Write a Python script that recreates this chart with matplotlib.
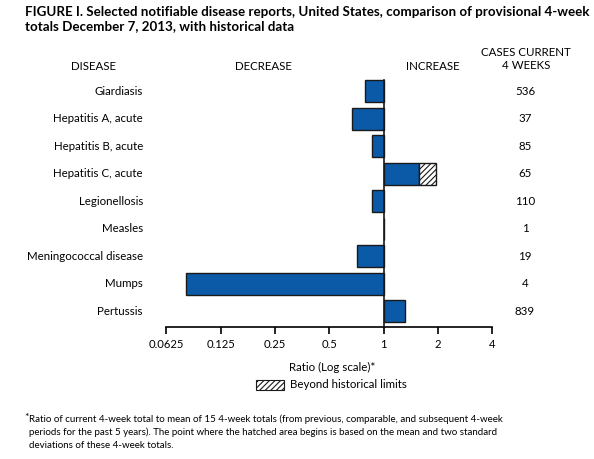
import matplotlib
matplotlib.use("Agg")
from matplotlib import pyplot as plt
from matplotlib import transforms
from matplotlib.patches import Rectangle

plt.rcParams['font.family'] = ['Lato', 'DejaVu Sans']
plt.rcParams['hatch.color'] = '#777777'
plt.rcParams['hatch.linewidth'] = 0.8

diseases = ["Giardiasis", "Hepatitis A, acute", "Hepatitis B, acute", "Hepatitis C, acute",
            "Legionellosis", "Measles", "Meningococcal disease", "Mumps", "Pertussis"]
ratios = [0.785, 0.665, 0.858, 1.95, 0.858, 1.0, 0.71, 0.08, 1.31]
hist_limit = [None, None, None, 1.57, None, None, None, None, None]
cases = [536, 37, 85, 65, 110, 1, 19, 4, 839]
ticks = [0.0625, 0.125, 0.25, 0.5, 1, 2, 4]
tick_labels = ["0.0625", "0.125", "0.25", "0.5", "1", "2", "4"]

W, H = 594, 459
blue = "#0a5aa8"
edge = "#1a1a1a"

fig = plt.figure(figsize=(W / 100, H / 100), dpi=100)
ax = fig.add_axes([166.3 / W, 1 - 326.7 / H, (492.3 - 166.3) / W, (326.7 - 77.25) / H])


def ftext(x, y, s, **kw):
    return fig.text(x / W, 1 - y / H, s, **kw)


ypos = list(range(len(diseases)))
for y, r, lim in zip(ypos, ratios, hist_limit):
    if lim is None:
        ax.barh(y, r - 1, left=1, height=0.8, color=blue, edgecolor=edge, linewidth=1)
    else:
        ax.barh(y, lim - 1, left=1, height=0.8, color=blue, edgecolor=edge, linewidth=1)
        ax.barh(y, r - lim, left=lim, height=0.8, color="white", edgecolor=edge,
                linewidth=1, hatch="//////")

ax.plot([1, 1], [-0.4, 8.6], color=edge, lw=1.2, zorder=3)

ax.set_xscale("log", base=2)
ax.set_xlim(0.0625, 4)
ax.set_ylim(8.57, -0.5)
ax.set_xticks(ticks)
ax.set_xticklabels(tick_labels)
ax.minorticks_off()
ax.set_yticks([])
for s in ["top", "right", "left"]:
    ax.spines[s].set_visible(False)
ax.spines["bottom"].set_linewidth(1.2)
ax.tick_params(axis="x", direction="out", length=5, width=1.2, labelsize=8.1, pad=4)

tr = transforms.blended_transform_factory(fig.transFigure, ax.transData)
for y, name, c in zip(ypos, diseases, cases):
    ax.text(143 / W, y, name, transform=tr, ha="right", va="center", fontsize=8.3)
    ax.text(525 / W, y, str(c), transform=tr, ha="center", va="center", fontsize=8.3)

ftext(25, 12, "FIGURE I. Selected notifiable disease reports, United States, comparison of provisional 4-week",
      fontsize=9.6, fontweight="bold", va="center", ha="left")
ftext(25, 26, "totals December 7, 2013, with historical data",
      fontsize=9.6, fontweight="bold", va="center", ha="left")

ftext(93, 67, "DISEASE", fontsize=8.3, ha="center", va="center")
ftext(263, 67, "DECREASE", fontsize=8.3, ha="center", va="center")
ftext(433, 67, "INCREASE", fontsize=8.3, ha="center", va="center")
ftext(526, 53, "CASES CURRENT", fontsize=8.3, ha="center", va="center")
ftext(526, 66, "4 WEEKS", fontsize=8.3, ha="center", va="center")

ftext(332, 367, "Ratio (Log scale)*", fontsize=8.3, ha="center", va="center")
fig.patches.append(Rectangle((256 / W, 1 - 390 / H), 28 / W, 10 / H, transform=fig.transFigure,
                             facecolor="white", edgecolor=edge, linewidth=0.8, hatch="//////"))
ftext(290, 385, "Beyond historical limits", fontsize=8.3, ha="left", va="center")

ftext(24, 418, "*", fontsize=7.5, ha="left", va="center")
ftext(29, 419, "Ratio of current 4-week total to mean of 15 4-week totals (from previous, comparable, and subsequent 4-week",
      fontsize=7.0, ha="left", va="center")
ftext(29, 432, "periods for the past 5 years). The point where the hatched area begins is based on the mean and two standard",
      fontsize=7.0, ha="left", va="center")
ftext(29, 445, "deviations of these 4-week totals.", fontsize=7.0, ha="left", va="center")

fig.savefig("out.png", dpi=100)
